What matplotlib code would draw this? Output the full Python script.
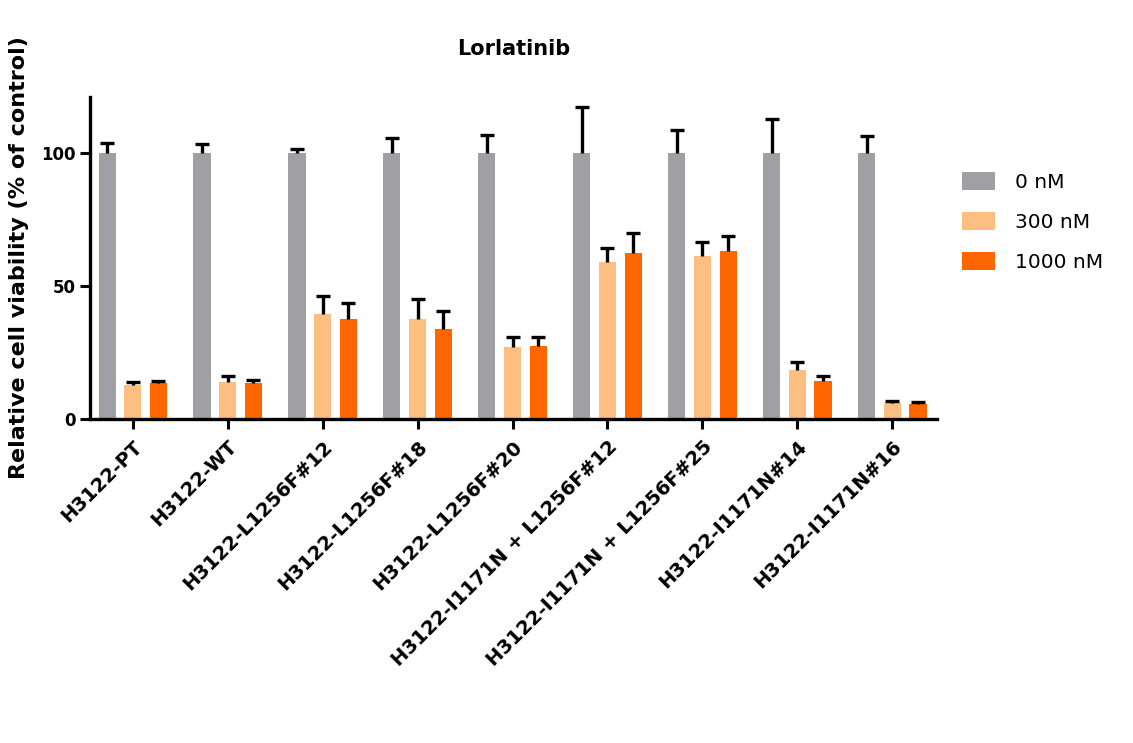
import numpy as np
import matplotlib
matplotlib.use("Agg")
import matplotlib.pyplot as plt

cell_lines = [
    "H3122-PT",
    "H3122-WT",
    "H3122-L1256F#12",
    "H3122-L1256F#18",
    "H3122-L1256F#20",
    "H3122-I1171N + L1256F#12",
    "H3122-I1171N + L1256F#25",
    "H3122-I1171N#14",
    "H3122-I1171N#16",
]
doses = ["0 nM", "300 nM", "1000 nM"]

# mean viability (% of control) and SD for each dose
viab_0 = [100, 100, 100, 100, 100, 100, 100, 100, 100]
viab_300 = [12.8, 14.0, 39.4, 37.7, 27.2, 59.0, 61.3, 18.3, 6.1]
viab_1000 = [13.4, 13.4, 37.7, 34.0, 27.4, 62.2, 63.2, 14.4, 5.5]
sd_0 = [3.6, 3.3, 1.5, 5.4, 6.8, 17.4, 8.6, 12.8, 6.4]
sd_300 = [1.2, 2.2, 6.8, 7.4, 3.5, 5.4, 5.4, 3.0, 0.8]
sd_1000 = [0.9, 1.3, 6.0, 6.7, 3.5, 7.6, 5.6, 1.8, 0.8]

colors = ["#a0a0a4", "#fdbf81", "#ff6600"]

plt.rcParams["font.family"] = ["DejaVu Sans"]
plt.rcParams["font.weight"] = "bold"

fig = plt.figure(figsize=(11.33, 7.43), dpi=100)
ax = fig.add_axes([0.0794, 0.436, 0.7476, 0.4335])

x = np.arange(len(cell_lines))
step = 0.27
width = 0.18
series = [(viab_0, sd_0), (viab_300, sd_300), (viab_1000, sd_1000)]
for i, (vals, sds) in enumerate(series):
    pos = x + (i - 1) * step
    ax.bar(pos, vals, width, color=colors[i], label=doses[i], zorder=2)
    # upper error bars only
    eb = ax.errorbar(pos, vals, yerr=[np.zeros(len(vals)), sds], fmt="none",
                     ecolor="black", elinewidth=2.4, capsize=5, capthick=2.4,
                     zorder=3)
    for cap in eb[1]:
        if np.allclose(cap.get_ydata(), vals):
            cap.set_visible(False)

ax.set_xlim(-0.45, 8.47)
ax.set_ylim(0, 121)
ax.set_yticks([0, 50, 100])
ax.set_xticks(x)
ax.set_xticklabels(cell_lines, rotation=45, ha="right", rotation_mode="anchor",
                   fontsize=14, fontweight="bold")
ax.tick_params(axis="y", labelsize=12, width=2.2, length=7, direction="out")
ax.tick_params(axis="x", width=2.2, length=7, direction="out", pad=6)

for side in ["top", "right"]:
    ax.spines[side].set_visible(False)
for side in ["left", "bottom"]:
    ax.spines[side].set_linewidth(2.4)

ax.set_title("Lorlatinib", fontsize=15, fontweight="bold", pad=30)
ax.set_ylabel("Relative cell viability (% of control)", fontsize=16,
              fontweight="bold")
ax.yaxis.set_label_coords(-0.072, 0.5)

leg = ax.legend(loc="upper left", bbox_to_anchor=(1.0295, 0.767), frameon=False,
                fontsize=14.5, handlelength=1.65, handleheight=1.0,
                labelspacing=1.0, handletextpad=1.0, borderpad=0,
                borderaxespad=0)
for t in leg.get_texts():
    t.set_fontweight("normal")

fig.savefig("out.png", dpi=100)
